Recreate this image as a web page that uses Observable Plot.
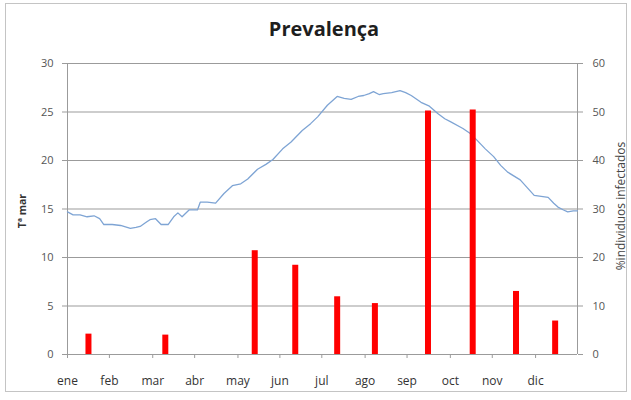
<!DOCTYPE html>
<html><head><meta charset="utf-8">
<script src="https://cdn.jsdelivr.net/npm/d3@7"></script>
<script src="https://cdn.jsdelivr.net/npm/@observablehq/plot@0.6"></script>
<style>
body{margin:0;background:#fff;}
#wrap{position:relative;width:631px;height:400px;overflow:hidden;font-family:"Open Sans",sans-serif;background:#fff;}
#chart{position:absolute;left:0;top:0;}
#frame{position:absolute;left:5px;top:3px;width:620px;height:387px;border:1px solid #c4c4c4;pointer-events:none;}
#title{position:absolute;left:0;width:648px;top:15px;text-align:center;font-size:20px;font-weight:bold;color:#1e1e1e;}
</style></head><body>
<div id="wrap"><div id="chart"></div><div id="frame"></div><div id="title">Prevalença</div></div>
<script>
// Month labels and tick positions (day of year)
const monthLabels = ["ene","feb","mar","abr","may","jun","jul","ago","sep","oct","nov","dic"];
const monthTickDays = [0,30,61,91,122,152,182,213,243,274,304,335];
const leftTicks = [0,5,10,15,20,25,30];
const rightTicks = [0,10,20,30,40,50,60];

// Sea temperature (Tª mar), day of year -> °C
const tempDays = [0,4,9,14,19,23,26,32,38,45,49,52,56,59,63,67,72,76,79,82,87,93,95,100,106,112,118,124,129,136,142,147,154,160,168,174,179,186,193,198,203,208,212,216,219,223,226,232,238,242,246,253,259,265,270,274,283,288,293,299,305,310,315,324,329,334,339,344,348,351,355,358,362,365];
const tempValues = [14.7,14.4,14.4,14.2,14.3,14.0,13.4,13.4,13.3,13.0,13.1,13.2,13.6,13.9,14.0,13.4,13.4,14.2,14.6,14.2,14.9,14.9,15.7,15.7,15.6,16.6,17.4,17.6,18.1,19.1,19.6,20.1,21.2,21.9,23.1,23.8,24.5,25.7,26.6,26.4,26.3,26.6,26.7,26.9,27.1,26.8,26.9,27.0,27.2,27.0,26.7,26.0,25.6,24.85,24.3,24.0,23.3,22.8,22.1,21.2,20.4,19.5,18.8,18.0,17.2,16.4,16.3,16.2,15.6,15.2,14.9,14.7,14.8,14.8];

// % individuos infectados, sampling day of year -> %
const barDays = [15,70,134,163,193,220,258,290,321,349];
const barValues = [4.2,4.0,21.4,18.4,11.9,10.5,50.2,50.4,13.0,6.9];

const tempData = tempDays.map((d,i)=>({day:d, t:tempValues[i]}));
const barData = barDays.map((d,i)=>({day:d, p:barValues[i]}));
const ratio = 2; // right axis (%) vs left axis (°C)

const grid = "#9b9b9b";
const labelColor = "#555";

const chart = Plot.plot({
  width:631, height:400,
  marginLeft:67, marginRight:54, marginTop:63, marginBottom:46,
  style:{background:"transparent", fontFamily:"Open Sans, sans-serif", fontSize:"11px", color:labelColor},
  x:{domain:[0,365], axis:null},
  y:{domain:[0,30], axis:null},
  marks:[
    Plot.gridY(leftTicks, {stroke:grid, strokeOpacity:1, strokeWidth:1}),
    Plot.ruleX([0,365], {stroke:grid, strokeWidth:1}),
    Plot.axisY(leftTicks, {anchor:"left", tickSize:5, tickPadding:9, stroke:grid, fill:labelColor, fontSize:11, label:null}),
    Plot.axisY(rightTicks.map(v=>v/ratio), {anchor:"right", tickSize:5, tickPadding:10, stroke:grid, fill:labelColor, fontSize:11, tickFormat:d=>d*ratio, label:null}),
    Plot.axisX(monthTickDays, {anchor:"bottom", tickSize:4, tickPadding:18, stroke:grid, fill:"#333", fontSize:12, tickFormat:(d,i)=>monthLabels[i], label:null}),
    Plot.line(tempData, {x:"day", y:"t", stroke:"#7ea4d4", strokeWidth:1.3}),
    Plot.ruleX(barData, {x:"day", y1:0, y2:d=>d.p/ratio, stroke:"#ff0000", strokeWidth:6}),
    Plot.text(["Tª mar"], {frameAnchor:"left", textAnchor:"middle", dx:-45, dy:2, rotate:-90, fontSize:10.5, fontWeight:"bold", fill:"#333"}),
    Plot.text(["%individuos infectados"], {frameAnchor:"right", textAnchor:"middle", dx:44, dy:-3, rotate:-90, fontSize:12, fill:"#444"})
  ]
});
document.getElementById("chart").appendChild(chart);
</script>
</body></html>
